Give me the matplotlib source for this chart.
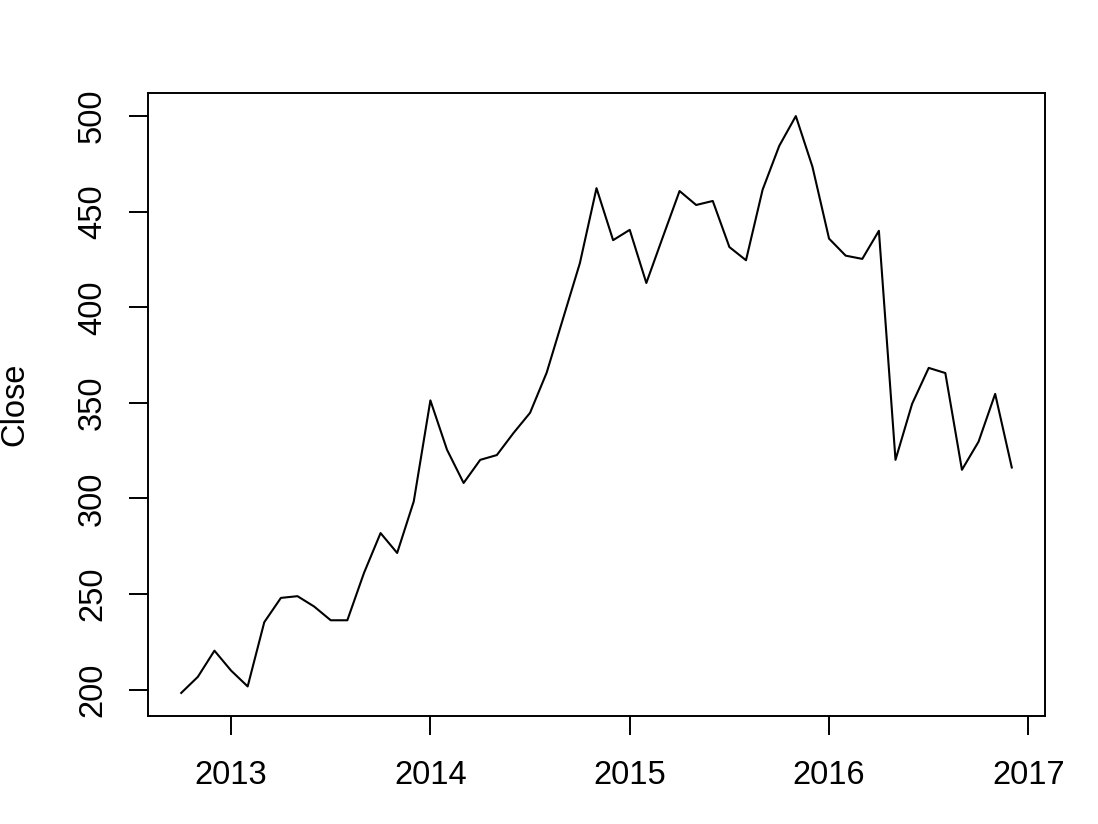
import matplotlib
matplotlib.use("Agg")
import matplotlib.pyplot as plt
import numpy as np

# Monthly closes, Oct 2012 .. Dec 2016 (decimal years)
start_year = 2012
start_month = 10
close = [198.3, 206.7, 220.4, 210.0, 201.7, 235.3, 248.0, 248.9, 243.5, 236.3,
         236.3, 261.0, 281.9, 271.5, 298.5, 351.3, 325.5, 308.1, 320.2, 322.7,
         334.2, 344.8, 365.8, 394.5, 423.1, 462.3, 435.1, 440.5, 412.7, 436.9,
         460.8, 453.5, 455.6, 431.5, 424.6, 461.5, 484.4, 500.0, 473.5, 435.9,
         427.0, 425.3, 440.0, 320.2, 349.5, 368.3, 365.6, 315.0, 329.7, 354.7,
         316.2]
xticks = [2013, 2014, 2015, 2016, 2017]
yticks = [200, 250, 300, 350, 400, 450, 500]
ylabel = "Close"

t = np.array([start_year + (start_month - 1 + i) / 12.0 for i in range(len(close))])

plt.rcParams['font.family'] = ['Liberation Sans', 'DejaVu Sans']

fig = plt.figure(figsize=(10.98, 8.24), dpi=100)
ax = fig.add_axes([148/1098, 1 - 716/824, (1045-148)/1098, (716-93)/824])
ax.plot(t, close, color='black', linewidth=1.5)

span_x = t[-1] - t[0]
ax.set_xlim(t[0] - 0.04*span_x, t[-1] + 0.04*span_x)
span_y = max(close) - min(close)
ax.set_ylim(min(close) - 0.04*span_y, max(close) + 0.04*span_y)

ax.set_xticks(xticks)
ax.set_xticklabels([str(v) for v in xticks])
ax.set_yticks(yticks)
ax.set_yticklabels([str(v) for v in yticks], rotation=90, va='center')

ax.tick_params(axis='both', direction='out', length=13.7, width=1.4,
               labelsize=23.5, color='black')
ax.tick_params(axis='x', pad=18)
ax.tick_params(axis='y', pad=15)
for s in ax.spines.values():
    s.set_linewidth(1.4)

ax.set_ylabel(ylabel, fontsize=23.5, va='center')
ax.yaxis.set_label_coords((15-148)/897, 0.5)

fig.savefig("out.png", dpi=100, facecolor='white')
